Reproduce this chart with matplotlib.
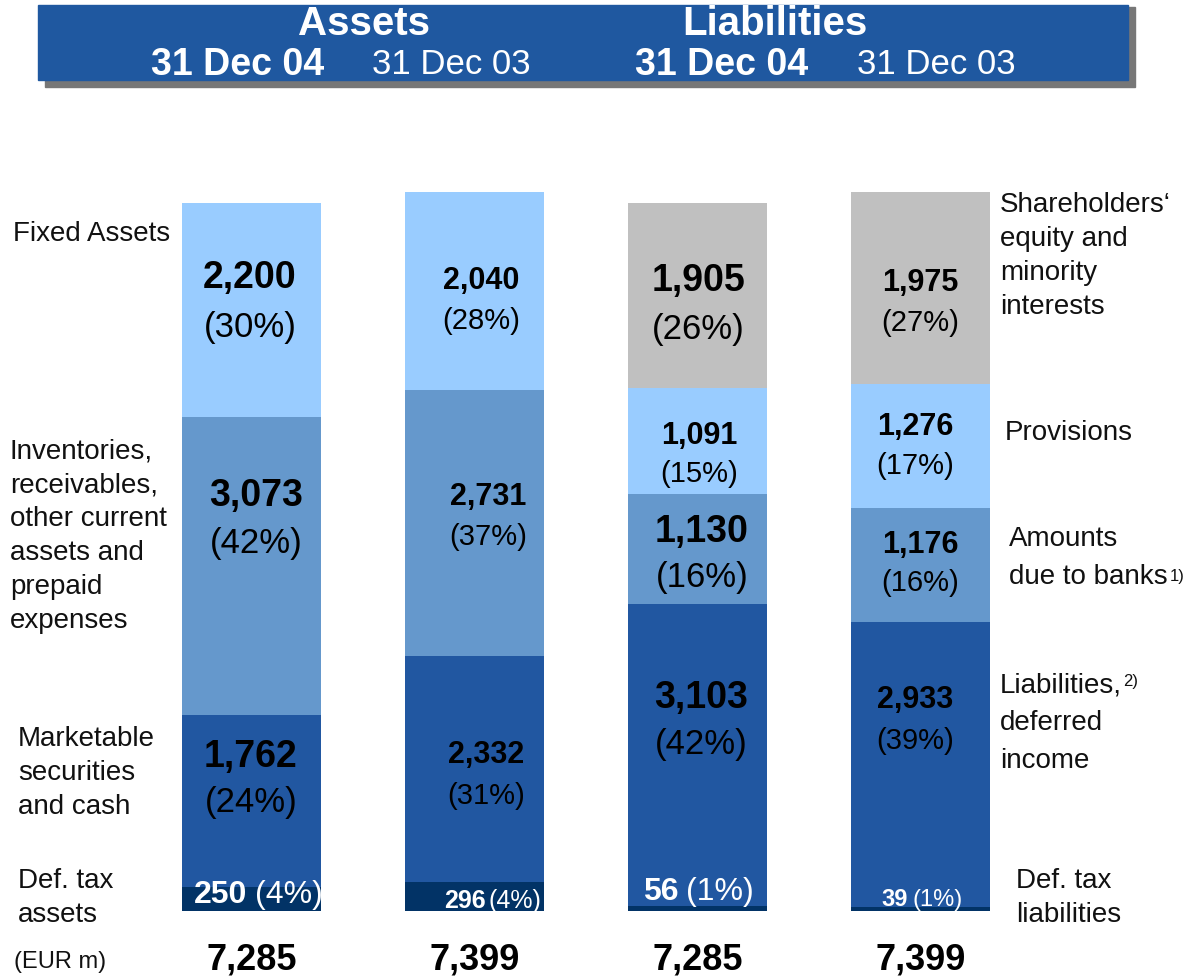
import matplotlib
matplotlib.use("Agg")
import matplotlib.pyplot as plt
from matplotlib.patches import Rectangle

plt.rcParams["font.family"] = ["Liberation Sans", "DejaVu Sans"]

# ── data (EUR m) ───────────────────────────────────────────────
columns   = ["Assets 31 Dec 04", "Assets 31 Dec 03",
             "Liabilities 31 Dec 04", "Liabilities 31 Dec 03"]
totals    = [7285, 7399, 7285, 7399]

# segments bottom -> top
assets_04 = [250, 1762, 3073, 2200]
assets_03 = [296, 2332, 2731, 2040]
liab_04   = [56, 3103, 1130, 1091, 1905]
liab_03   = [39, 2933, 1176, 1276, 1975]

assets_pct_04 = ["4%", "24%", "42%", "30%"]
assets_pct_03 = ["4%", "31%", "37%", "28%"]
liab_pct_04   = ["1%", "42%", "16%", "15%", "26%"]
liab_pct_03   = ["1%", "39%", "16%", "17%", "27%"]

ASSET_COLORS = ["#023366", "#2157a1", "#6598cc", "#99ccff"]
LIAB_COLORS  = ["#023366", "#2157a1", "#6598cc", "#99ccff", "#c0c0c0"]

# ── layout (pixels of a 1188x978 canvas) ───────────────────────
W, H = 1188, 978
BASE = 912            # bar baseline
PX = 0.0972           # px per EUR m
X0, STEP, BAR_W = 251.5, 223, 139


def fx(x):
    return x / W


def fy(y):
    return 1 - y / H


fig = plt.figure(figsize=(W / 100, H / 100), dpi=100, facecolor="white")
ax = fig.add_axes([0, 0, 1, 1])
ax.set_xlim(-X0 / STEP, (W - X0) / STEP)
ax.set_ylim(-(H - BASE) / PX, BASE / PX)
ax.axis("off")

stacks = [(assets_04, assets_pct_04, ASSET_COLORS),
          (assets_03, assets_pct_03, ASSET_COLORS),
          (liab_04, liab_pct_04, LIAB_COLORS),
          (liab_03, liab_pct_03, LIAB_COLORS)]

for i, (vals, _, cols) in enumerate(stacks):
    bottom = 0
    for v, c in zip(vals, cols):
        ax.bar(i, v, bottom=bottom, width=BAR_W / STEP, color=c, lw=0)
        bottom += v

# ── in-bar labels: (x-centre px, value y px, pct y px, value pt, pct pt) ──
label_pos = [
    [None, (251, 757, 803, 27, 25), (256, 496, 543, 27, 25), (250, 278, 327, 27, 25)],
    [None, (486, 755, 796, 22, 21), (488, 497, 537, 22, 21), (481, 281, 321, 22, 21)],
    [None, (701, 698, 745, 27, 25), (702, 532, 578, 27, 25), (699, 436, 474, 22, 21), (698, 281, 329, 27, 25)],
    [None, (915, 700, 741, 22, 21), (920, 545, 583, 22, 21), (915, 427, 466, 22, 21), (920, 283, 323, 22, 21)],
]
# thin def. tax segment: (value left px, pct left px, y px, pt)
deftax_pos = [(194, 255, 895, 23), (444, 488, 901, 18),
              (643, 686, 892, 23), (881, 913, 900, 17)]

for i, (vals, pcts, _) in enumerate(stacks):
    for v, p, pos in zip(vals[1:], pcts[1:], label_pos[i][1:]):
        cx, vy, py, vfs, pfs = pos
        fig.text(fx(cx), fy(vy), f"{v:,}", ha="center", va="center",
                 fontsize=vfs, fontweight="bold", color="black")
        fig.text(fx(cx), fy(py), f"({p})", ha="center", va="center",
                 fontsize=pfs, color="black")
    vx, px_, y, fs = deftax_pos[i]
    fig.text(fx(vx), fy(y), f"{vals[0]:,}", ha="left", va="center",
             fontsize=fs, fontweight="bold", color="white")
    fig.text(fx(px_), fy(y), f"({pcts[0]})", ha="left", va="center",
             fontsize=fs, color="white")

# totals
for i, t in enumerate(totals):
    fig.text(fx(X0 + i * STEP), fy(960), f"{t:,}", ha="center", va="center",
             fontsize=26, fontweight="bold")

# ── side labels ────────────────────────────────────────────────
LBL = dict(fontsize=20, color="#111111", va="top", ha="left", linespacing=1.4)
fig.text(fx(13), fy(221), "Fixed Assets", **LBL)
fig.text(fx(10), fy(438), "Inventories,\nreceivables,\nother current\nassets and\nprepaid\nexpenses", **LBL)
fig.text(fx(18), fy(726), "Marketable\nsecurities\nand cash", **LBL)
fig.text(fx(18), fy(868), "Def. tax\nassets", **LBL)
fig.text(fx(14), fy(962), "(EUR m)", fontsize=17, color="#111111", va="center", ha="left")

fig.text(fx(1000), fy(192), "Shareholders‘\nequity and\nminority\ninterests", **LBL)
fig.text(fx(1005), fy(420), "Provisions", **LBL)
fig.text(fx(1009), fy(526), "Amounts\ndue to banks", fontsize=20, color="#111111",
         va="top", ha="left", linespacing=1.6)
fig.text(fx(1170), fy(569), "1)", fontsize=12, color="#111111", va="top", ha="left")
fig.text(fx(1000), fy(672), "Liabilities,\ndeferred\nincome", fontsize=20, color="#111111",
         va="top", ha="left", linespacing=1.6)
fig.text(fx(1123), fy(674), "2)", fontsize=12, color="#111111", va="top", ha="left")
fig.text(fx(1016), fy(868), "Def. tax\nliabilities", **LBL)

# ── header banner ──────────────────────────────────────────────
fig.patches.append(Rectangle((fx(45), fy(88)), fx(1090), 80 / H,
                             transform=fig.transFigure, color="#777777", zorder=0))
fig.patches.append(Rectangle((fx(38), fy(81)), fx(1090), 75 / H,
                             transform=fig.transFigure, color="#1f58a0", zorder=1))

HDR = dict(color="white", ha="center", va="center", zorder=3)
fig.text(fx(364), fy(24), "Assets", fontsize=29, fontweight="bold", **HDR)
fig.text(fx(775), fy(24), "Liabilities", fontsize=29, fontweight="bold", **HDR)
fig.text(fx(238), fy(65), "31 Dec 04", fontsize=27, fontweight="bold", **HDR)
fig.text(fx(451), fy(65), "31 Dec 03", fontsize=25, **HDR)
fig.text(fx(722), fy(65), "31 Dec 04", fontsize=27, fontweight="bold", **HDR)
fig.text(fx(936), fy(65), "31 Dec 03", fontsize=25, **HDR)

fig.savefig("out.png", dpi=100, facecolor="white")
